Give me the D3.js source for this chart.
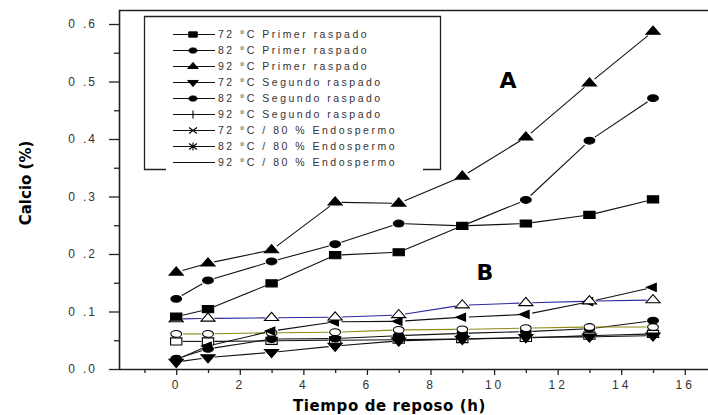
<!DOCTYPE html>
<html>
<head>
<meta charset="utf-8">
<script src="https://d3js.org/d3.v7.min.js"></script>
<style>
  body { margin: 0; background: #fff; }
  svg { display: block; font-family: "Liberation Sans", Arial, sans-serif; }
  .tick text { fill: #333; font-size: 12px; }
  .yax .tick text { letter-spacing: 2px; }
  .xax .tick text { letter-spacing: 3px; }
  .tick line { stroke: #222; stroke-width: 1.3px; }
</style>
</head>
<body>
<div id="chart"></div>
<script>
// hours of rest
var hours = [0, 1, 3, 5, 7, 9, 11, 13, 15];

// group A (Primer raspado)
var a72 = [0.091, 0.104, 0.149, 0.198, 0.203, 0.249, 0.253, 0.268, 0.295];
var a82 = [0.122, 0.154, 0.187, 0.217, 0.253, 0.249, 0.294, 0.397, 0.471];
var a92 = [0.168, 0.184, 0.207, 0.290, 0.288, 0.335, 0.403, 0.497, 0.587];

// group B (lower curves)
var bOpenTri   = [0.087, 0.088, 0.089, 0.090, 0.094, 0.111, 0.115, 0.118, 0.120];
var bLeftTri   = [0.016, 0.040, 0.066, 0.082, 0.083, 0.090, 0.095, 0.117, 0.142];
var bOpenCirc  = [0.061, 0.061, 0.063, 0.064, 0.068, 0.069, 0.071, 0.073, 0.073];
var bFillCirc  = [0.018, 0.035, 0.052, 0.053, 0.058, 0.062, 0.065, 0.070, 0.084];
var bOpenSq    = [0.048, 0.048, 0.049, 0.050, 0.051, 0.052, 0.054, 0.058, 0.061];
var bDownTri   = [0.012, 0.020, 0.029, 0.040, 0.049, 0.052, 0.055, 0.056, 0.058];

var legendLabels = [
  "72 °C Primer raspado", "82 °C Primer raspado", "92 °C Primer raspado",
  "72 °C Segundo raspado", "82 °C Segundo raspado", "92 °C Segundo raspado",
  "72 °C / 80 % Endospermo", "82 °C / 80 % Endospermo", "92 °C / 80 % Endospermo"
];
var legendMarks = ["square", "circle", "tri", "down", "circle", "plus", "cross", "star", "none"];

var yTicks = [0, 0.1, 0.2, 0.3, 0.4, 0.5, 0.6];
var yMinor = [0.05, 0.15, 0.25, 0.35, 0.45, 0.55];
var xTicks = [0, 2, 4, 6, 8, 10, 12, 14, 16];
var xMinor = [-1, 1, 3, 5, 7, 9, 11, 13, 15];

var series = [
  {vals: bOpenSq,   mark: "square", fill: "#fff", color: "#111"},
  {vals: bDownTri,  mark: "down",   fill: "#000", color: "#111"},
  {vals: bFillCirc, mark: "circle", fill: "#000", color: "#111"},
  {vals: bOpenCirc, mark: "circle", fill: "#fff", color: "#8f8a10"},
  {vals: bLeftTri,  mark: "left",   fill: "#000", color: "#111"},
  {vals: bOpenTri,  mark: "tri",    fill: "#fff", color: "#2b2b9e"},
  {vals: a72, mark: "square", fill: "#000", color: "#111"},
  {vals: a82, mark: "circle", fill: "#000", color: "#111"},
  {vals: a92, mark: "tri",    fill: "#000", color: "#111"}
];

var W = 708, H = 415;
var x = d3.scaleLinear().domain([-1.8, 16.73]).range([119, 708]);
var y = d3.scaleLinear().domain([0, 0.6]).range([369, 24]);

var svg = d3.select("#chart").append("svg").attr("width", W).attr("height", H);

// symbol path for a marker type (drawn then stretched, like the source picture)
function markPath(type) {
  if (type === "square") return d3.symbol().type(d3.symbolSquare).size(50)();
  if (type === "circle") return d3.symbol().type(d3.symbolCircle).size(50)();
  if (type === "tri" || type === "down") return d3.symbol().type(d3.symbolTriangle).size(60)();
  if (type === "left") return d3.symbol().type(d3.symbolTriangle).size(50)();
  return null;
}
function markTransform(type, k) {
  k = k || 1;
  var sx = 1.35, sy = 0.85, r = 0;
  if (type === "square") { sx = 1.6; sy = 1.0; }
  if (type === "tri" || type === "down") { sx = 1.2; sy = 0.8; }
  if (type === "left") { sx = 1.05; sy = 0.75; }
  if (type === "down") r = 180;
  if (type === "left") r = -90;
  return " scale(" + sx * k + "," + sy * k + ") rotate(" + r + ")";
}

// axes
var yAxis = d3.axisLeft(y).tickValues(yTicks).tickSize(10).tickPadding(12).tickFormat(d3.format(".1f"));
var yAxisMinor = d3.axisLeft(y).tickValues(yMinor).tickSize(5).tickFormat("");
var xAxis = d3.axisBottom(x).tickValues(xTicks).tickSize(6).tickPadding(5).tickFormat(d3.format("d"));
var xAxisMinor = d3.axisBottom(x).tickValues(xMinor).tickSize(4).tickFormat("");

svg.append("g").attr("class", "yax").attr("transform", "translate(119,0)").call(yAxis)
  .call(function(g) {
    g.select(".domain").remove();
    // old-style labels: "0 .6"
    g.selectAll(".tick text").each(function(d) {
      var t = d3.select(this), s = d3.format(".1f")(d);
      t.text(null);
      t.append("tspan").text(s.slice(0, 1));
      t.append("tspan").attr("dx", 6).text(s.slice(1));
    });
  });
svg.append("g").attr("transform", "translate(119,0)").call(yAxisMinor).call(function(g) { g.select(".domain").remove(); });
svg.append("g").attr("class", "xax").attr("transform", "translate(0,369)").call(xAxis).call(function(g) { g.select(".domain").remove(); });
svg.append("g").attr("transform", "translate(0,369)").call(xAxisMinor).call(function(g) { g.select(".domain").remove(); });

// frame
svg.append("path")
  .attr("d", "M708,10.5H119.5V369.5H708")
  .attr("fill", "none").attr("stroke", "#222").attr("stroke-width", 1.6);

// axis titles
svg.append("text")
  .attr("x", 293).attr("y", 411)
  .style("font-family", "'DejaVu Sans', Verdana, sans-serif")
  .style("font-weight", "bold").style("font-size", "15px").style("letter-spacing", "0.6px")
  .text("Tiempo de reposo (h)");
svg.append("text")
  .attr("transform", "translate(31,183) rotate(-90)")
  .attr("text-anchor", "middle")
  .style("font-family", "'DejaVu Sans', Verdana, sans-serif")
  .style("font-weight", "bold").style("font-size", "15px")
  .text("Calcio (%)");

// lines with small gaps around each marker
var gap = 6.5;
var plot = svg.append("g");
series.forEach(function(s) {
  var pts = hours.map(function(h, i) { return [x(h), y(s.vals[i])]; });
  for (var i = 0; i < pts.length - 1; i++) {
    var p = pts[i], q = pts[i + 1];
    var dx = q[0] - p[0], dy = q[1] - p[1], len = Math.sqrt(dx * dx + dy * dy);
    if (len <= 2 * gap) continue;
    var ux = dx / len, uy = dy / len;
    plot.append("line")
      .attr("x1", p[0] + ux * gap).attr("y1", p[1] + uy * gap)
      .attr("x2", q[0] - ux * gap).attr("y2", q[1] - uy * gap)
      .attr("stroke", s.color).attr("stroke-width", 1.1);
  }
});
series.forEach(function(s) {
  plot.selectAll(null)
    .data(hours.map(function(h, i) { return [h, s.vals[i]]; }))
    .enter().append("path")
      .attr("d", markPath(s.mark))
      .attr("transform", function(d) {
        return "translate(" + x(d[0]) + "," + y(d[1]) + ")" + markTransform(s.mark);
      })
      .attr("fill", s.fill)
      .attr("stroke", "#000")
      .attr("stroke-width", 1.1)
      .attr("vector-effect", "non-scaling-stroke");
});

// group letters
svg.append("text").attr("x", 508).attr("y", 88).attr("text-anchor", "middle")
  .style("font-family", "'DejaVu Sans', Verdana, sans-serif")
  .style("font-weight", "bold").style("font-size", "22px").text("A");
svg.append("text").attr("x", 485).attr("y", 280).attr("text-anchor", "middle")
  .style("font-family", "'DejaVu Sans', Verdana, sans-serif")
  .style("font-weight", "bold").style("font-size", "22px").text("B");

// legend
var lg = svg.append("g");
lg.append("rect").attr("x", 144.5).attr("y", 16.5).attr("width", 296).attr("height", 153)
  .attr("fill", "#fff").attr("stroke", "none");
lg.append("path")
  .attr("d", "M166,169.5H144.5V16.5H440.5V169.5H423")
  .attr("fill", "none").attr("stroke", "#222").attr("stroke-width", 1.3);

var rows = lg.selectAll("g.row")
  .data(legendLabels)
  .enter().append("g")
    .attr("class", "row")
    .attr("transform", function(d, i) { return "translate(0," + (34.5 + i * 16) + ")"; });

rows.append("line")
  .attr("x1", 173).attr("x2", 215)
  .attr("stroke", "#111").attr("stroke-width", 1.1);

rows.each(function(d, i) {
  var g = d3.select(this), m = legendMarks[i];
  var p = markPath(m);
  if (p) {
    g.append("path").attr("d", p)
      .attr("transform", "translate(193,0)" + markTransform(m, 0.75))
      .attr("fill", "#000").attr("stroke", "#000").attr("stroke-width", 1)
      .attr("vector-effect", "non-scaling-stroke");
  } else if (m === "plus") {
    g.append("line").attr("x1", 193).attr("x2", 193).attr("y1", -4).attr("y2", 4)
      .attr("stroke", "#000").attr("stroke-width", 1.1);
  } else if (m === "cross") {
    g.append("path").attr("d", "M189,-3L197,3M189,3L197,-3")
      .attr("stroke", "#000").attr("stroke-width", 1.1);
  } else if (m === "star") {
    g.append("path").attr("d", "M189,-3L197,3M189,3L197,-3M193,-4V4")
      .attr("stroke", "#000").attr("stroke-width", 1.1);
  }
});

rows.append("text")
  .attr("x", 218).attr("dy", "0.35em")
  .style("font-size", "10.5px").style("letter-spacing", "2.5px")
  .attr("fill", "#333")
  .text(function(d) { return d; });
</script>
</body>
</html>
